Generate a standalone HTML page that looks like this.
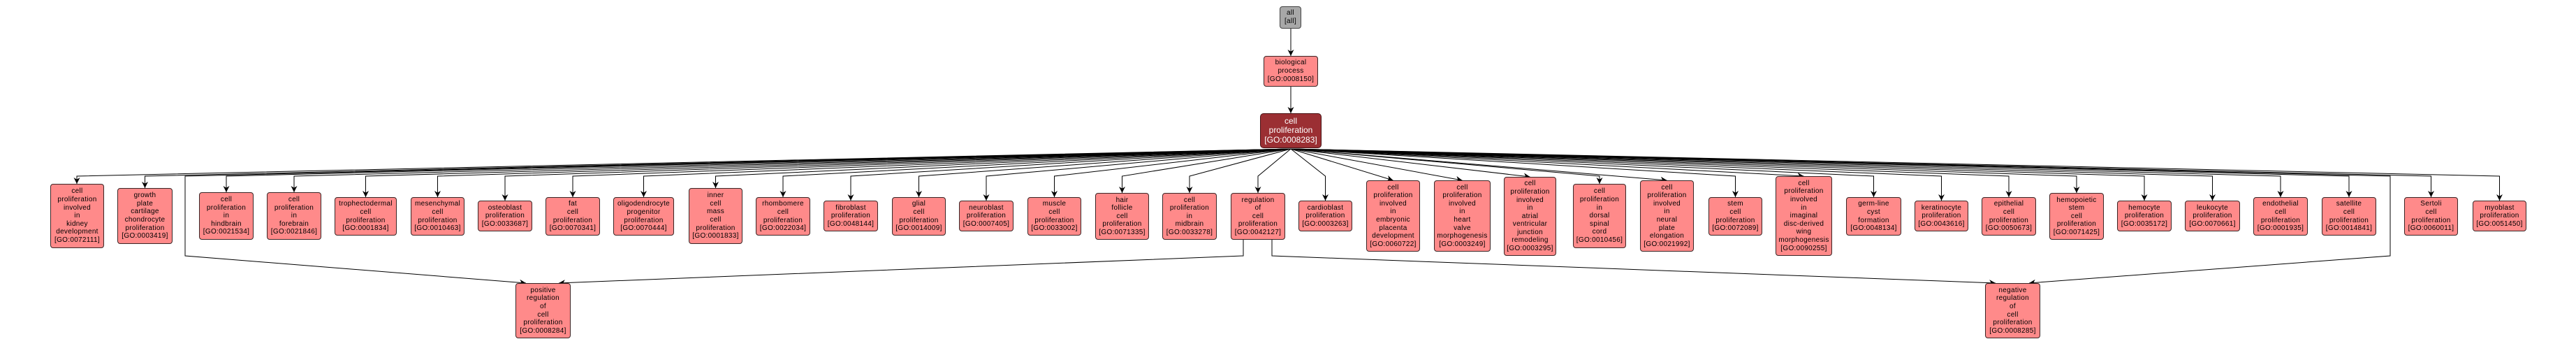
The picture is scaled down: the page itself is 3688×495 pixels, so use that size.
<!DOCTYPE html>
<html><head><meta charset="utf-8">
<style>
html,body{margin:0;padding:0;background:#fff;}
body{width:3688px;height:495px;position:relative;overflow:hidden;}
svg{position:absolute;left:0;top:0;}
.n{position:absolute;box-sizing:border-box;border:1px solid #3a2626;border-radius:4px;background:#ff8a8a;font:10px/11.6px "Liberation Sans",Arial,sans-serif;letter-spacing:.3px;color:#000;display:flex;align-items:center;justify-content:center;text-align:center;white-space:nowrap;}
.cp{background:#9b2f33;color:#fff;font-size:12px;line-height:13.6px;letter-spacing:0;border-color:#4a1416;border-radius:5px;}
.all{background:#a8a8a8;border-color:#444;}
</style></head><body>
<svg width="3688" height="495" viewBox="0 0 3688 495">
<defs><marker id="a" viewBox="0 0 10 10" refX="10" refY="5" markerWidth="9" markerHeight="9" markerUnits="userSpaceOnUse" orient="auto"><path d="M0,0 L10,5 L0,10 L3,5 Z" fill="#000"/></marker></defs>
<g fill="none" stroke="#000" stroke-width="1" marker-end="url(#a)">
<path d="M1848 41V80"/>
<path d="M1848 124V162"/>
<path d="M1848 213L110 252V263"/>
<path d="M1848 213L207.5 252V269"/>
<path d="M1848 213L324 252V275"/>
<path d="M1848 213L421 252V275"/>
<path d="M1848 213L523.5 252V282"/>
<path d="M1848 213L626.5 252V282"/>
<path d="M1848 213L723 252V287"/>
<path d="M1848 213L820 252V282"/>
<path d="M1848 213L921.5 252V282"/>
<path d="M1848 213L1024.5 252V269"/>
<path d="M1848 213L1121 252V282"/>
<path d="M1848 213L1218 252V287"/>
<path d="M1848 213L1315.5 252V282"/>
<path d="M1848 213L1412 252V287"/>
<path d="M1848 213L1509.5 252V282"/>
<path d="M1848 213L1606.5 252V276"/>
<path d="M1848 213L1703 252V276"/>
<path d="M1848 213L1801 252V276"/>
<path d="M1848 213L1897.5 252V287"/>
<path d="M1848 213L1994.5 258"/>
<path d="M1848 213L2093.5 258"/>
<path d="M1848 213L2190.5 253"/>
<path d="M1848 213L2290 252V263"/>
<path d="M1848 213L2386.5 258"/>
<path d="M1848 213L2484.5 252V282"/>
<path d="M1848 213L2582.5 252"/>
<path d="M1848 213L2682.5 252V282"/>
<path d="M1848 213L2779.5 252V287"/>
<path d="M1848 213L2876 252V282"/>
<path d="M1848 213L2973 252V276"/>
<path d="M1848 213L3070 252V287"/>
<path d="M1848 213L3167.5 252V287"/>
<path d="M1848 213L3265 252V282"/>
<path d="M1848 213L3363 252V282"/>
<path d="M1848 213L3480.5 252V282"/>
<path d="M1848 213L3578.5 252V287"/>
<path d="M1848 213L265 252V366L753 405"/>
<path d="M1848 213L3422 252V366L2905 405"/>
<path d="M1780 343V366L800 405"/>
<path d="M1821 343V366L2857 405"/>
</g>
</svg>

<div class="n all" style="left:1832px;top:9px;width:31px;height:32px"><div>all<br>[all]</div></div>
<div class="n" style="left:1809px;top:80px;width:78px;height:44px;line-height:12px"><div>biological<br>process<br>[GO:0008150]</div></div>
<div class="n cp" style="left:1804px;top:162px;width:88px;height:50px"><div>cell<br>proliferation<br>[GO:0008283]</div></div>

<div class="n" style="left:72px;top:263px;width:77px;height:92px"><div>cell<br>proliferation<br>involved<br>in<br>kidney<br>development<br>[GO:0072111]</div></div>
<div class="n" style="left:168px;top:269px;width:79px;height:80px"><div>growth<br>plate<br>cartilage<br>chondrocyte<br>proliferation<br>[GO:0003419]</div></div>
<div class="n" style="left:285px;top:275px;width:78px;height:68px"><div>cell<br>proliferation<br>in<br>hindbrain<br>[GO:0021534]</div></div>
<div class="n" style="left:382px;top:275px;width:78px;height:68px"><div>cell<br>proliferation<br>in<br>forebrain<br>[GO:0021846]</div></div>
<div class="n" style="left:479px;top:282px;width:89px;height:55px"><div>trophectodermal<br>cell<br>proliferation<br>[GO:0001834]</div></div>
<div class="n" style="left:588px;top:282px;width:77px;height:55px"><div>mesenchymal<br>cell<br>proliferation<br>[GO:0010463]</div></div>
<div class="n" style="left:684px;top:287px;width:78px;height:44px"><div>osteoblast<br>proliferation<br>[GO:0033687]</div></div>
<div class="n" style="left:781px;top:282px;width:78px;height:55px"><div>fat<br>cell<br>proliferation<br>[GO:0070341]</div></div>
<div class="n" style="left:878px;top:282px;width:87px;height:55px"><div>oligodendrocyte<br>progenitor<br>proliferation<br>[GO:0070444]</div></div>
<div class="n" style="left:986px;top:269px;width:77px;height:80px"><div>inner<br>cell<br>mass<br>cell<br>proliferation<br>[GO:0001833]</div></div>
<div class="n" style="left:1082px;top:282px;width:78px;height:55px"><div>rhombomere<br>cell<br>proliferation<br>[GO:0022034]</div></div>
<div class="n" style="left:1179px;top:287px;width:78px;height:44px"><div>fibroblast<br>proliferation<br>[GO:0048144]</div></div>
<div class="n" style="left:1277px;top:282px;width:77px;height:55px"><div>glial<br>cell<br>proliferation<br>[GO:0014009]</div></div>
<div class="n" style="left:1373px;top:287px;width:78px;height:44px"><div>neuroblast<br>proliferation<br>[GO:0007405]</div></div>
<div class="n" style="left:1471px;top:282px;width:77px;height:55px"><div>muscle<br>cell<br>proliferation<br>[GO:0033002]</div></div>
<div class="n" style="left:1568px;top:276px;width:77px;height:67px"><div>hair<br>follicle<br>cell<br>proliferation<br>[GO:0071335]</div></div>
<div class="n" style="left:1664px;top:276px;width:78px;height:67px"><div>cell<br>proliferation<br>in<br>midbrain<br>[GO:0033278]</div></div>
<div class="n" style="left:1762px;top:276px;width:78px;height:67px"><div>regulation<br>of<br>cell<br>proliferation<br>[GO:0042127]</div></div>
<div class="n" style="left:1859px;top:287px;width:77px;height:44px"><div>cardioblast<br>proliferation<br>[GO:0003263]</div></div>
<div class="n" style="left:1956px;top:258px;width:77px;height:102px"><div>cell<br>proliferation<br>involved<br>in<br>embryonic<br>placenta<br>development<br>[GO:0060722]</div></div>
<div class="n" style="left:2053px;top:258px;width:81px;height:102px"><div>cell<br>proliferation<br>involved<br>in<br>heart<br>valve<br>morphogenesis<br>[GO:0003249]</div></div>
<div class="n" style="left:2153px;top:253px;width:75px;height:113px"><div>cell<br>proliferation<br>involved<br>in<br>atrial<br>ventricular<br>junction<br>remodeling<br>[GO:0003295]</div></div>
<div class="n" style="left:2252px;top:263px;width:76px;height:92px"><div>cell<br>proliferation<br>in<br>dorsal<br>spinal<br>cord<br>[GO:0010456]</div></div>
<div class="n" style="left:2348px;top:258px;width:77px;height:102px"><div>cell<br>proliferation<br>involved<br>in<br>neural<br>plate<br>elongation<br>[GO:0021992]</div></div>
<div class="n" style="left:2446px;top:282px;width:77px;height:55px"><div>stem<br>cell<br>proliferation<br>[GO:0072089]</div></div>
<div class="n" style="left:2542px;top:252px;width:81px;height:114px"><div>cell<br>proliferation<br>involved<br>in<br>imaginal<br>disc-derived<br>wing<br>morphogenesis<br>[GO:0090255]</div></div>
<div class="n" style="left:2643px;top:282px;width:79px;height:55px"><div>germ-line<br>cyst<br>formation<br>[GO:0048134]</div></div>
<div class="n" style="left:2741px;top:287px;width:77px;height:44px"><div>keratinocyte<br>proliferation<br>[GO:0043616]</div></div>
<div class="n" style="left:2837px;top:282px;width:78px;height:55px"><div>epithelial<br>cell<br>proliferation<br>[GO:0050673]</div></div>
<div class="n" style="left:2934px;top:276px;width:78px;height:67px"><div>hemopoietic<br>stem<br>cell<br>proliferation<br>[GO:0071425]</div></div>
<div class="n" style="left:3031px;top:287px;width:78px;height:44px"><div>hemocyte<br>proliferation<br>[GO:0035172]</div></div>
<div class="n" style="left:3128px;top:287px;width:79px;height:44px"><div>leukocyte<br>proliferation<br>[GO:0070661]</div></div>
<div class="n" style="left:3226px;top:282px;width:78px;height:55px"><div>endothelial<br>cell<br>proliferation<br>[GO:0001935]</div></div>
<div class="n" style="left:3324px;top:282px;width:78px;height:55px"><div>satellite<br>cell<br>proliferation<br>[GO:0014841]</div></div>
<div class="n" style="left:3442px;top:282px;width:77px;height:55px"><div>Sertoli<br>cell<br>proliferation<br>[GO:0060011]</div></div>
<div class="n" style="left:3540px;top:287px;width:77px;height:44px"><div>myoblast<br>proliferation<br>[GO:0051450]</div></div>

<div class="n" style="left:738px;top:405px;width:79px;height:79px"><div>positive<br>regulation<br>of<br>cell<br>proliferation<br>[GO:0008284]</div></div>
<div class="n" style="left:2842px;top:405px;width:79px;height:79px"><div>negative<br>regulation<br>of<br>cell<br>proliferation<br>[GO:0008285]</div></div>
</body></html>
